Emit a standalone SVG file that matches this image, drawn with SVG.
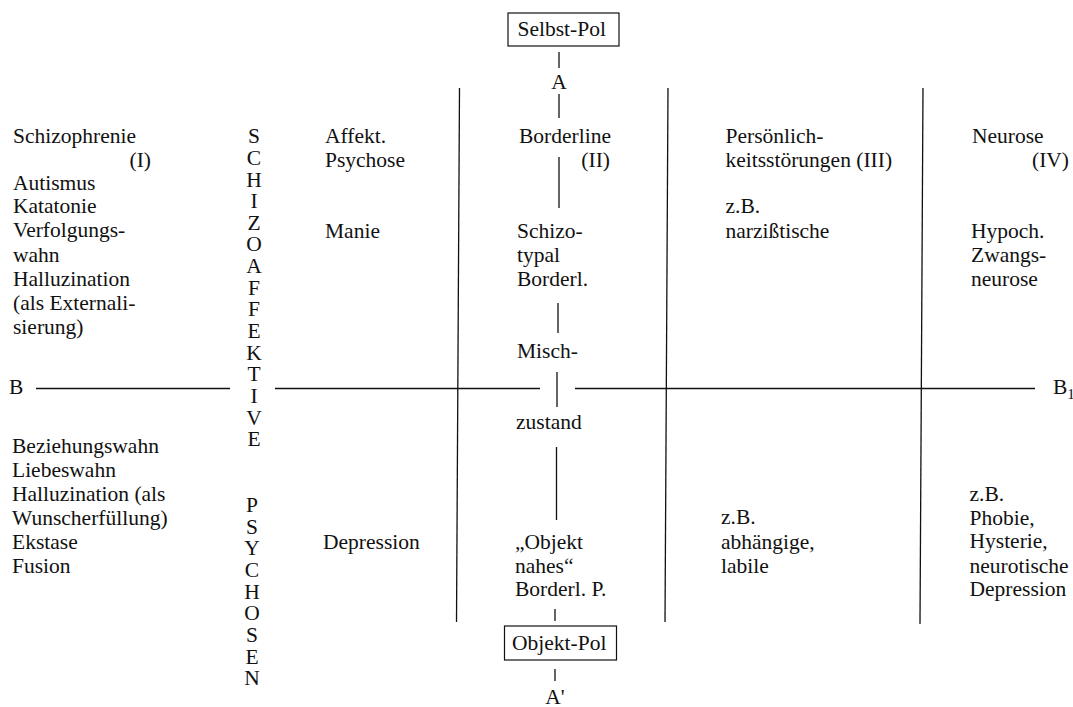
<svg xmlns="http://www.w3.org/2000/svg" width="1073" height="707" viewBox="0 0 1073 707">
<style>
text{font-family:"Liberation Serif","Times New Roman",serif;font-size:21.5px;fill:#111}
.m{text-anchor:middle}
.r{text-anchor:end}
line{stroke:#111;stroke-width:1.3}
rect{fill:none;stroke:#111;stroke-width:1.2}
</style>
<rect width="1073" height="707" fill="#fff" style="stroke:none"/>
<g id="connectors">
<line x1="459.5" y1="88" x2="456.5" y2="622"/>
<line x1="668" y1="88" x2="665" y2="622"/>
<line x1="923" y1="88" x2="920" y2="624"/>
<line x1="36" y1="388.5" x2="230" y2="388.5"/>
<line x1="275" y1="388.5" x2="540" y2="388.5"/>
<line x1="575" y1="388.5" x2="1035" y2="388.5"/>
<line x1="559" y1="52" x2="559" y2="68"/>
<line x1="559" y1="94" x2="559" y2="118"/>
<line x1="559" y1="157" x2="559" y2="208"/>
<line x1="558" y1="303" x2="558" y2="333"/>
<line x1="557" y1="372" x2="557" y2="407"/>
<line x1="556.5" y1="447" x2="556.5" y2="520"/>
<line x1="555" y1="609" x2="555" y2="621"/>
<line x1="555" y1="669" x2="555" y2="681"/>
</g>
<g id="selbst-pol">
<rect x="508" y="13" width="111" height="33"/>
<text x="517.5" y="36">Selbst-Pol</text>
</g>
<g id="objekt-pol">
<rect x="504.5" y="626" width="112" height="34"/>
<text x="512" y="650">Objekt-Pol</text>
</g>
<g id="axis-labels">
<text class="m" x="559" y="89">A</text>
<text class="m" x="555" y="704">A'</text>
<text x="9" y="394">B</text>
<text x="1053" y="394">B<tspan font-size="15" dy="5">1</tspan></text>
</g>
<g id="schizophrenie">
<text x="13" y="143">Schizophrenie</text>
<text class="r" x="151" y="166.7">(I)</text>
<text x="13" y="189.5">Autismus</text>
<text x="13" y="213">Katatonie</text>
<text x="13" y="236.5">Verfolgungs-</text>
<text x="13" y="262">wahn</text>
<text x="13" y="286">Halluzination</text>
<text x="13" y="310">(als Externali-</text>
<text x="13" y="333.5">sierung)</text>
</g>
<g id="schizophrenie-lower">
<text x="12" y="452.5">Beziehungswahn</text>
<text x="12" y="476.5">Liebeswahn</text>
<text x="12" y="500.5">Halluzination (als</text>
<text x="12" y="524.5">Wunscherfüllung)</text>
<text x="12" y="548.5">Ekstase</text>
<text x="12" y="573">Fusion</text>
</g>
<g id="schizoaffektive-psychosen">
<text class="m" x="254" y="143.3"><tspan x="254">S</tspan><tspan x="254" dy="21.8">C</tspan><tspan x="254" dy="21.8">H</tspan><tspan x="254" dy="21.3">I</tspan><tspan x="254" dy="21.5">Z</tspan><tspan x="254" dy="21.2">O</tspan><tspan x="254" dy="22">A</tspan><tspan x="254" dy="22">F</tspan><tspan x="254" dy="21.5">F</tspan><tspan x="254" dy="21.5">E</tspan><tspan x="254" dy="22">K</tspan><tspan x="254" dy="21.5">T</tspan><tspan x="254" dy="21.8">I</tspan><tspan x="254" dy="21.7">V</tspan><tspan x="254" dy="21">E</tspan></text>
<text class="m" x="252" y="512"><tspan x="252">P</tspan><tspan x="252" dy="21.7">S</tspan><tspan x="252" dy="21.6">Y</tspan><tspan x="252" dy="21.7">C</tspan><tspan x="252" dy="21.7">H</tspan><tspan x="252" dy="21.6">O</tspan><tspan x="252" dy="21.7">S</tspan><tspan x="252" dy="21.7">E</tspan><tspan x="252" dy="21.6">N</tspan></text>
</g>
<g id="affektpsychose">
<text x="325" y="143">Affekt.</text>
<text x="325" y="166.7">Psychose</text>
<text x="325" y="238">Manie</text>
<text x="323" y="548.7">Depression</text>
</g>
<g id="borderline">
<text x="519" y="142.7">Borderline</text>
<text class="r" x="610" y="166.7">(II)</text>
<text x="517" y="238">Schizo-</text>
<text x="517" y="262">typal</text>
<text x="517" y="285.5">Borderl.</text>
<text x="517" y="357.7">Misch-</text>
<text x="516" y="429">zustand</text>
<text x="515" y="549">„Objekt</text>
<text x="515" y="572.5">nahes“</text>
<text x="515" y="596">Borderl. P.</text>
</g>
<g id="persoenlichkeitsstoerungen">
<text x="725.5" y="142.7">Persönlich-</text>
<text x="725.5" y="166.7">keitsstörungen  (III)</text>
<text x="725.5" y="213.3">z.B.</text>
<text x="725.5" y="237.7">narzißtische</text>
<text x="721" y="524.3">z.B.</text>
<text x="721" y="548.7">abhängige,</text>
<text x="721" y="573">labile</text>
</g>
<g id="neurose">
<text x="972" y="142.7">Neurose</text>
<text class="r" x="1069" y="166.7">(IV)</text>
<text x="971" y="238">Hypoch.</text>
<text x="971" y="262">Zwangs-</text>
<text x="971" y="285.5">neurose</text>
<text x="969.5" y="501.3">z.B.</text>
<text x="969.5" y="524.7">Phobie,</text>
<text x="969.5" y="548.3">Hysterie,</text>
<text x="969.5" y="572.7">neurotische</text>
<text x="969.5" y="596.3">Depression</text>
</g>
</svg>
